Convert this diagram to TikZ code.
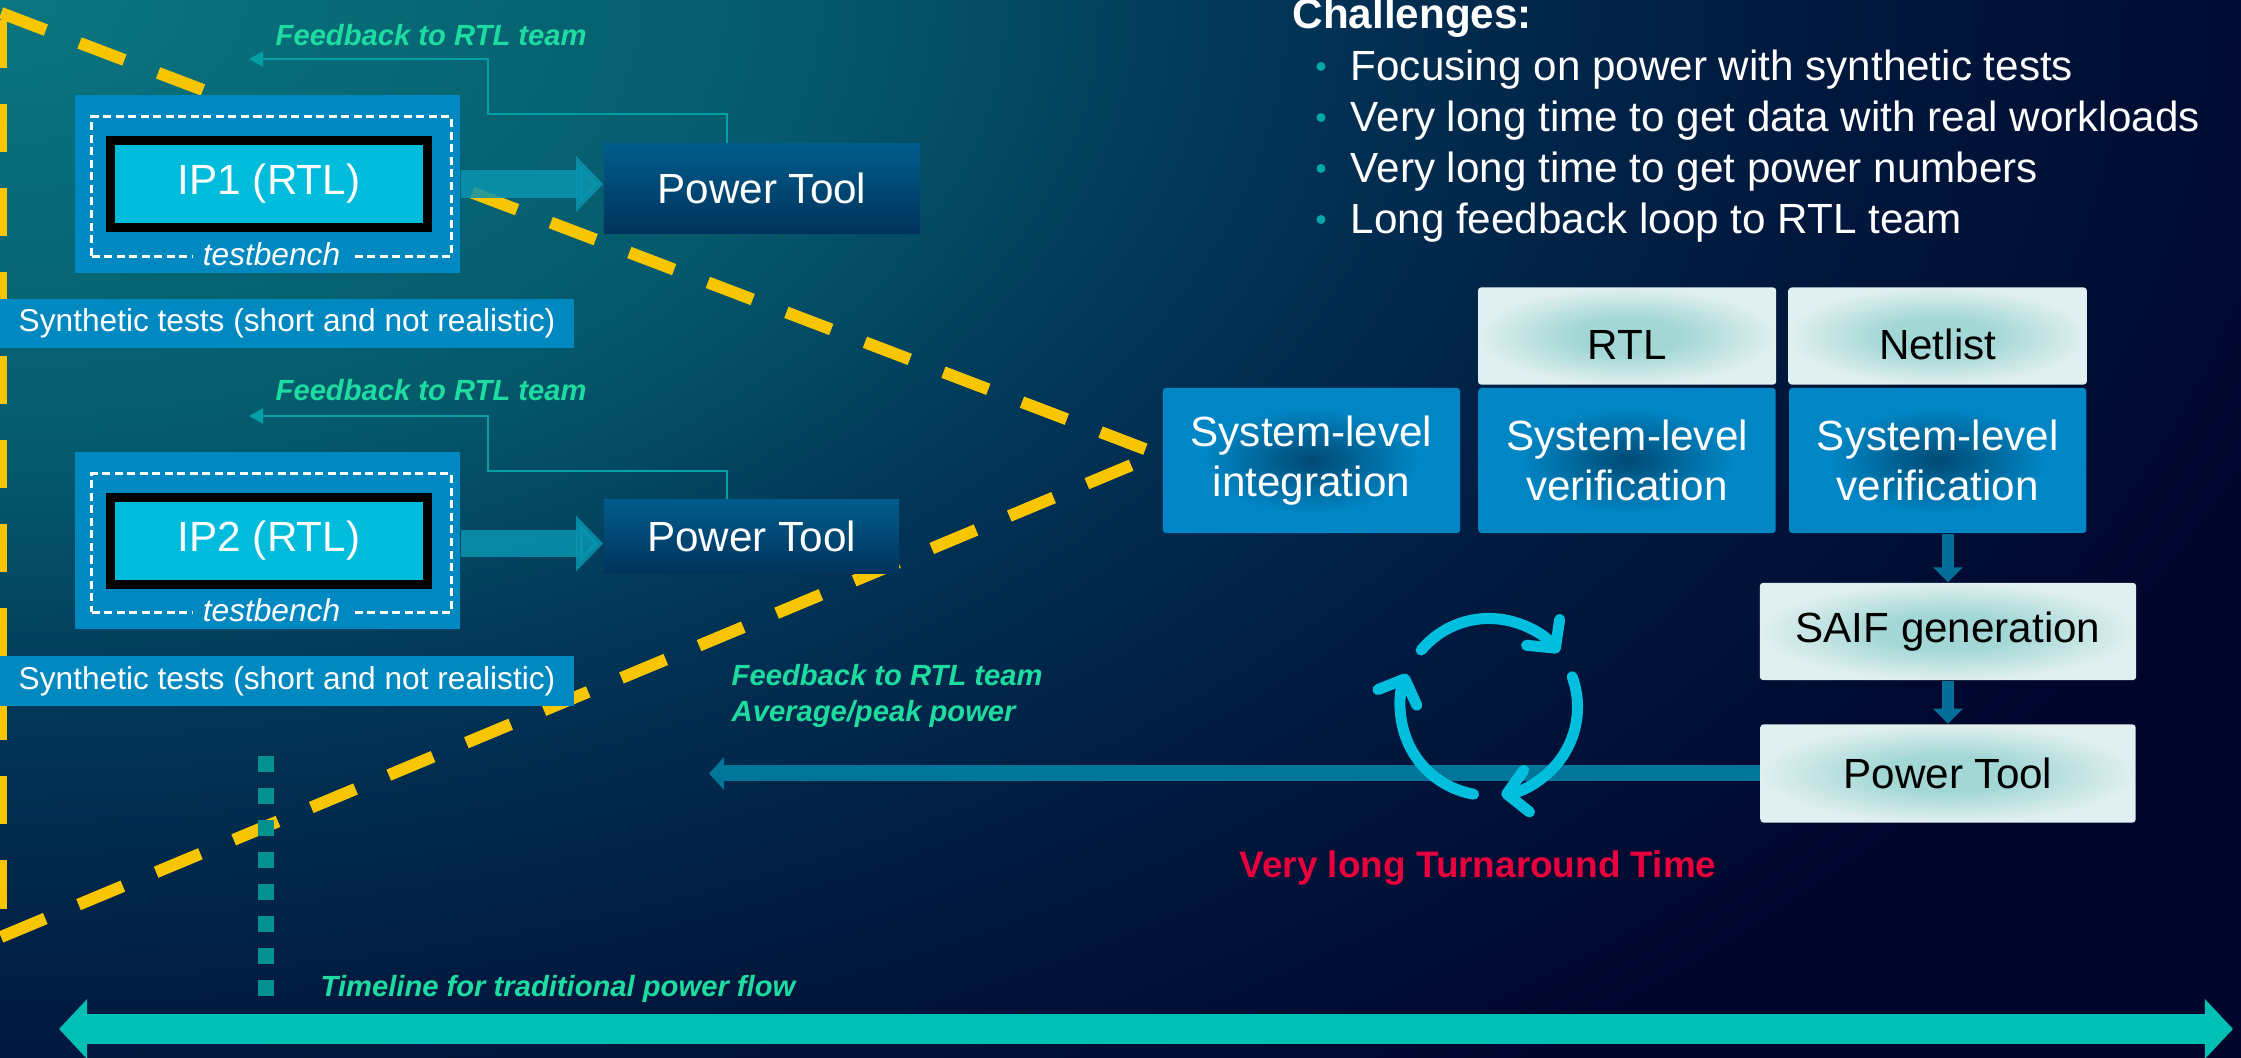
\documentclass[tikz,border=0pt]{standalone}
\usepackage{fontspec}
\setmainfont{Liberation Sans}
\usetikzlibrary{positioning}
\usetikzlibrary{arrows.meta}

\definecolor{bgA}{HTML}{0A7680}
\definecolor{bgB}{HTML}{055A6C}
\definecolor{bgC}{HTML}{023456}
\definecolor{bgD}{HTML}{011B40}
\definecolor{bgE}{HTML}{00052C}
\definecolor{ipblue}{HTML}{0088C0}
\definecolor{ipcyan}{HTML}{00BCDC}
\definecolor{ptTop}{HTML}{005C8C}
\definecolor{ptBot}{HTML}{00335C}
\definecolor{sysIn}{HTML}{004A74}
\definecolor{sysOut}{HTML}{0086C4}
\definecolor{hdrIn}{HTML}{A2D7D6}
\definecolor{hdrOut}{HTML}{E0EFEF}
\definecolor{fbteal}{HTML}{00A0A4}
\definecolor{fbgreen}{HTML}{1EDCA0}
\definecolor{arrteal}{HTML}{0A94AE}
\definecolor{downteal}{HTML}{006E96}
\definecolor{longteal}{HTML}{00759A}
\definecolor{cycblue}{HTML}{00BEDD}
\definecolor{redtxt}{HTML}{E8003C}
\definecolor{tlteal}{HTML}{00C0B5}
\definecolor{dotteal}{HTML}{00918F}
\definecolor{dashyellow}{HTML}{F7C600}
\definecolor{bulletteal}{HTML}{00A8A8}

\pgfdeclareradialshading{bgglow}{\pgfpoint{0bp}{0bp}}{color(0bp)=(bgA); color(5bp)=(bgB); color(8bp)=(bgC); color(11bp)=(bgD); color(15bp)=(bgE); color(50bp)=(bgE)}
\pgfdeclareradialshading{sysglow}{\pgfpoint{0bp}{0bp}}{color(0bp)=(sysIn); color(18bp)=(sysOut); color(50bp)=(sysOut)}
\pgfdeclareradialshading{hdrglow}{\pgfpoint{0bp}{0bp}}{color(0bp)=(hdrIn); color(9bp)=(hdrIn); color(25bp)=(hdrOut); color(50bp)=(hdrOut)}

\tikzset{
ipframe/.style={ % Sets the properties for the outer IP block
fill=ipblue, minimum width=3.85cm, minimum height=1.78cm, inner sep=0pt},
tbframe/.style={ % Dashed testbench frame
draw=white, line width=0.03cm, dash pattern=on 0.08cm off 0.045cm,
minimum width=3.59cm, minimum height=1.39cm, inner sep=0pt},
ipcore/.style={
fill=ipcyan, draw=black, line width=0.09cm, minimum width=3.17cm,
minimum height=0.86cm, inner sep=0pt, text=white, font=\fontsize{12}{14}\selectfont},
tblabel/.style={
fill=ipblue, anchor=base, inner xsep=0.1cm, inner ysep=0pt,
text=white, font=\fontsize{9}{11}\selectfont\itshape},
ptbox/.style={ % Dark power tool boxes
top color=ptTop, bottom color=ptBot, inner sep=0pt,
text=white, font=\fontsize{12}{14}\selectfont},
synbox/.style={
fill=ipblue, minimum width=5.74cm, minimum height=0.49cm, inner sep=0pt,
text=white, font=\fontsize{9}{11}\selectfont},
sysbox/.style={
shade, shading=sysglow, rounded corners=0.03cm, minimum width=2.97cm,
minimum height=1.45cm, inner sep=0pt, align=center,
text=white, font=\fontsize{12}{14.2}\selectfont},
hdrbox/.style={
shade, shading=hdrglow, rounded corners=0.03cm, minimum width=2.98cm,
minimum height=0.97cm, inner sep=0pt, text=black, font=\fontsize{12}{14}\selectfont},
fbline/.style={ % Thin feedback connectors
draw=fbteal, line width=0.02cm, -{Triangle[length=0.14cm,width=0.15cm]}},
fbtext/.style={
text=fbgreen, inner sep=0pt, font=\fontsize{8.3}{10}\selectfont\bfseries\itshape},
bigarrow/.style={
draw=arrteal, opacity=0.85, -{Triangle[length=0.27cm,width=0.54cm]}},
downarrow/.style={
draw=downteal, line width=0.12cm, -{Triangle[length=0.15cm,width=0.29cm]}},
longback/.style={
draw=longteal, line width=0.16cm, -{Triangle[length=0.15cm,width=0.32cm]}},
cyclearc/.style={
draw=cycblue, line width=0.11cm, line cap=round,
-{Straight Barb[length=0.2cm,width=0.42cm,round]}},
timeline/.style={
draw=tlteal, line width=0.30cm,
{Triangle[length=0.28cm,width=0.58cm]}-{Triangle[length=0.28cm,width=0.58cm]}},
yellowdash/.style={
draw=dashyellow, line width=0.12cm, dash pattern=on 0.48cm off 0.36cm},
dotcol/.style={
draw=dotteal, line width=0.16cm, dash pattern=on 0.16cm off 0.16cm},
chead/.style={
anchor=base west, inner sep=0pt, text=white, font=\fontsize{12}{14}\selectfont\bfseries},
citem/.style={
anchor=base west, inner sep=0pt, text=white, font=\fontsize{12}{14}\selectfont},
redtext/.style={
text=redtxt, inner sep=0pt, font=\fontsize{10.5}{12}\selectfont\bfseries}}

\begin{document}
\begin{tikzpicture}[x=0.01cm, y=-0.01cm]
\useasboundingbox (0,0) rectangle (2241,1058);
\clip (0,0) rectangle (2241,1058);
\shade[shading=bgglow] (-4000,-2300) rectangle (4000,2300);

% yellow fence
\coordinate (ytop) at (1,13);
\coordinate (ybot) at (1,937);
\coordinate (apex) at (1158,454);
\draw[yellowdash] (ytop) -- (apex);
\draw[yellowdash] (ybot) -- (apex);
\draw[yellowdash] (1,20) -- (ybot);

% timeline marker
\coordinate (dtop) at (266,756);
\coordinate (dbot) at (266,996);
\draw[dotcol] (dtop) -- (dbot);

% IP blocks
\node[ipframe] (ip1wrap) at (267.5,184) {};
\node[tbframe] (tb1) at (271.5,186.5) {};
\node[ipcore] (ip1) at (269,184) {IP1 (RTL)};
\node[tblabel] (tb1lbl) at ([yshift=-0.08cm]tb1.south) {testbench};
\node[synbox] (syn1) at (287,323.5) {Synthetic tests (short and not realistic)};

\node[ipframe, minimum height=1.77cm] (ip2wrap) at (267.5,540.5) {};
\node[tbframe, minimum height=1.38cm] (tb2) at (271.5,543) {};
\node[ipcore] (ip2) at (269,541) {IP2 (RTL)};
\node[tblabel] (tb2lbl) at ([yshift=-0.08cm]tb2.south) {testbench};
\node[synbox, minimum height=0.50cm] (syn2) at (287,681) {Synthetic tests (short and not realistic)};

\node[ptbox, minimum width=3.16cm, minimum height=0.89cm] (pt1) at (762,188.5) {Power Tool};
\node[ptbox, minimum width=2.95cm, minimum height=0.73cm] (pt2) at (751.5,536.5) {Power Tool};

\draw[bigarrow, line width=0.28cm] (ip1wrap.east) -- (ip1wrap.east -| pt1.west);
\draw[bigarrow, line width=0.26cm] ([yshift=-0.03cm]ip2wrap.east) -- ([yshift=-0.03cm]ip2wrap.east -| pt2.west);

% feedback to RTL team
\coordinate (fb1knee) at (488,114);
\coordinate (fb1tip) at (249,59);
\draw[fbline] ([xshift=-0.35cm]pt1.north) |- (fb1knee) |- (fb1tip);
\node[fbtext, anchor=base west] (fb1) at (275,46) {Feedback to RTL team};
\coordinate (fb2knee) at (488,471);
\coordinate (fb2tip) at (249,416);
\draw[fbline] ([xshift=-0.245cm]pt2.north) |- (fb2knee) |- (fb2tip);
\node[fbtext, anchor=base west] (fb2) at (275,401) {Feedback to RTL team};

% system level flow
\node[sysbox] (sysint) at (1311.5,460.5) {System-level\\integration};
\node[sysbox, right=0.17cm of sysint] (verrtl) {System-level\\verification};
\node[sysbox, right=0.12cm of verrtl] (vernet) {System-level\\verification};
\node[hdrbox, text height=0.47cm, above=0.02cm of verrtl] (hdrrtl) {RTL};
\node[hdrbox, text height=0.47cm, above=0.02cm of vernet] (hdrnet) {Netlist};
\node[hdrbox, minimum width=3.76cm] (saif) at (1948,631.5) {SAIF generation};
\node[hdrbox, minimum width=3.75cm, minimum height=0.98cm, below=0.43cm of saif] (pt3) {Power Tool};
\draw[downarrow] (vernet.south -| saif.north) -- (saif.north);
\draw[downarrow] (saif) -- (pt3);

\coordinate (fbtip) at (709,771);
\draw[longback] (pt3.west) -- (pt3.west -| fbtip);
\node[fbtext, anchor=north west, align=left] (fb3) at (731,664) {Feedback to RTL team\\Average/peak power};

% turnaround loop
\coordinate (cyc) at (1489,707);
\foreach \a in {0,120,240}
  \draw[cyclearc] ([shift={({140-\a}:0.885cm)}]cyc) arc[start angle=140-\a, end angle=38-\a, radius=0.885cm];
\node[redtext] (tat) at (1478,868) {Very long Turnaround Time};

% challenges
\node[chead] (chal) at (1292,29) {Challenges:};
\foreach \txt [count=\i from 0] in {Focusing on power with synthetic tests, Very long time to get data with real workloads, Very long time to get power numbers, Long feedback loop to RTL team} {
  \node[citem] (ch\i) at (1350,{81+51*\i}) {\txt};
  \fill[bulletteal] ([xshift=-0.29cm,yshift=0.145cm]ch\i.base west) circle (0.045cm);
}

% timeline
\coordinate (tlleft) at (59,1029);
\coordinate (tlright) at (2233,1029);
\draw[timeline] (tlleft) -- (tlright);
\node[fbtext, anchor=base west] (tllabel) at (320,996) {Timeline for traditional power flow};
\end{tikzpicture}
\end{document}
